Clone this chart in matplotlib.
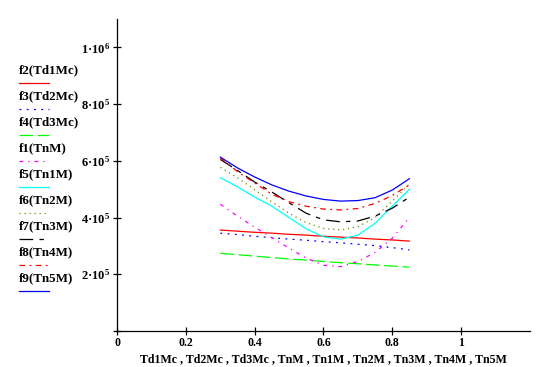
import matplotlib
matplotlib.use("Agg")
import matplotlib.pyplot as plt
from matplotlib.lines import Line2D

plt.rcParams["font.family"] = ["Liberation Serif", "DejaVu Serif"]
plt.rcParams["font.weight"] = "bold"
plt.rcParams["mathtext.fontset"] = "custom"
plt.rcParams["mathtext.rm"] = "Liberation Serif:bold"
plt.rcParams["mathtext.it"] = "Liberation Serif:bold"
plt.rcParams["mathtext.bf"] = "Liberation Serif:bold"

# ---- DATA (y in units of 1e3) ----
x = [0.30, 0.35, 0.40, 0.45, 0.50, 0.55, 0.60, 0.65, 0.70, 0.75, 0.80, 0.85]

f2_td1mc = [356, 352, 348, 345, 341, 338, 334, 331, 328, 324, 321, 317]
f3_td2mc = [345, 340, 334, 329, 324, 320, 315, 311, 306, 301, 294, 286]
f4_td3mc = [274, 269, 264, 259, 254, 250, 245, 241, 237, 233, 229, 225]
f1_tnm = [447, 405, 366, 329, 292, 257, 232, 227, 245, 277, 327, 400]
f5_tn1m = [541, 508, 472, 440, 400, 360, 332, 324, 338, 380, 440, 500]
f6_tn2m = [577, 540, 498, 455, 415, 382, 362, 356, 368, 400, 458, 518]
f7_tn3m = [605, 566, 525, 490, 452, 415, 392, 385, 388, 405, 433, 472]
f8_tn4m = [610, 562, 522, 482, 456, 440, 430, 427, 432, 450, 478, 515]
f9_tn5m = [613, 575, 543, 515, 493, 476, 464, 458, 460, 470, 497, 537]

labels = ["f2(Td1Mc)", "f3(Td2Mc)", "f4(Td3Mc)", "f1(TnM)", "f5(Tn1M)",
          "f6(Tn2M)", "f7(Tn3M)", "f8(Tn4M)", "f9(Tn5M)"]
series = [f2_td1mc, f3_td2mc, f4_td3mc, f1_tnm, f5_tn1m,
          f6_tn2m, f7_tn3m, f8_tn4m, f9_tn5m]

xticks = [0, 0.2, 0.4, 0.6, 0.8, 1]
xticklabels = ["0", "0.2", "0.4", "0.6", "0.8", "1"]
yticks = [0, 2e5, 4e5, 6e5, 8e5, 1e6]
yticklabels = ["", "$2\u00b710^{5}$", "$4\u00b710^{5}$", "$6\u00b710^{5}$",
               "$8\u00b710^{5}$", "$1\u00b710^{6}$"]
xlabel = "Td1Mc , Td2Mc , Td3Mc , TnM , Tn1M , Tn2M , Tn3M , Tn4M , Tn5M"

colors = ["#ff0000", "#0000ff", "#00ff00", "#ff00ff", "#00ffff",
          "#808000", "#000000", "#ff0000", "#0000ff"]
styles = ["-", (0, (1.5, 4.3)), (0, (11, 3.6)), (0, (3, 4, 1, 4)), "-",
          (0, (1, 3)), (0, (11, 5, 3.5, 5)), (0, (4.5, 3.5, 1.5, 3.5)), "-"]

# ---- PLOT ----
fig = plt.figure(figsize=(5.59, 3.67), dpi=100)
ax = fig.add_axes([0.2098, 0.0981, 0.7378, 0.8499])

for ys, c, ls in zip(series, colors, styles):
    ax.plot(x, [v * 1e3 for v in ys], color=c, linestyle=ls, linewidth=0.9)

ax.set_xlim(0, 1.2)
ax.set_ylim(0, 1.1e6)
ax.spines["top"].set_visible(False)
ax.spines["right"].set_visible(False)
ax.spines["left"].set_linewidth(0.9)
ax.spines["bottom"].set_linewidth(0.9)

ax.set_xticks(xticks)
ax.set_xticklabels(xticklabels, fontsize=8.5, fontweight="bold")
ax.set_yticks(yticks)
ax.set_yticklabels(yticklabels, fontsize=9)
ax.tick_params(axis="both", direction="inout", length=6, width=0.9)
ax.tick_params(axis="x", pad=1)
ax.tick_params(axis="y", pad=2)

ax.set_xlabel(xlabel, fontsize=8.6, fontweight="bold", labelpad=3)

# legend down the left side, Mathcad style
H = 367.0
for i, (lab, c, ls) in enumerate(zip(labels, colors, styles)):
    ty = 70.5 + i * 26.0
    fig.text(19 / 559, 1 - ty / H, lab, fontsize=9.4, fontweight="bold",
             va="center", ha="left")
    ly = 1 - (ty + 12.8) / H
    fig.add_artist(Line2D([19 / 559, 49 / 559], [ly, ly], color=c,
                          linestyle=ls, linewidth=0.9,
                          transform=fig.transFigure))

fig.savefig("out.png", dpi=100)
